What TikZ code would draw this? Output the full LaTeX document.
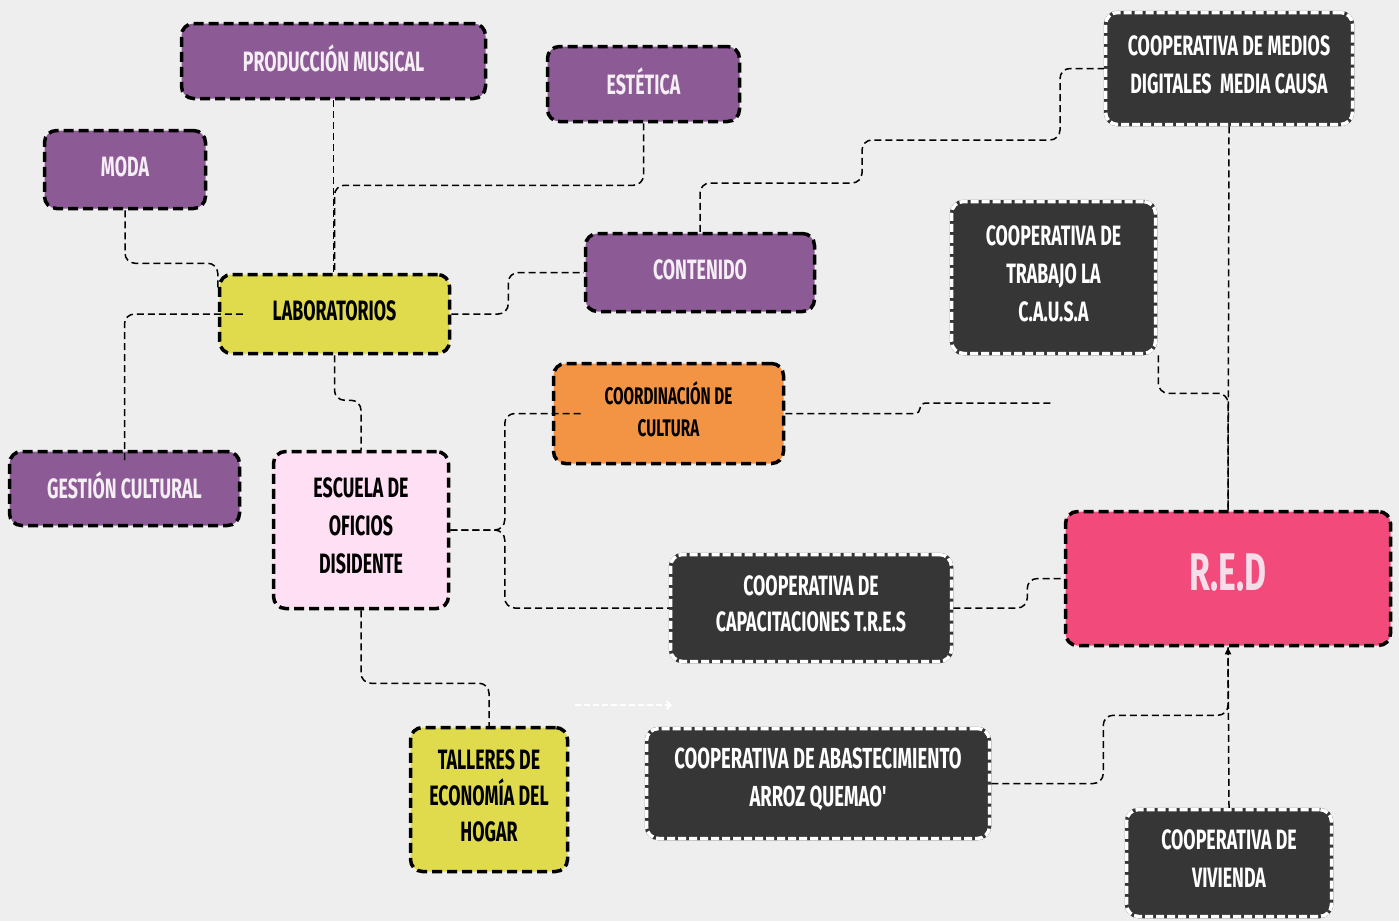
\documentclass[tikz,border=0pt]{standalone}
\usepackage{fontspec}
\newfontfamily\bebas[FakeStretch=0.636]{Fira Sans}
\usetikzlibrary{calc,arrows.meta}
\definecolor{bg}{HTML}{EEEEEE}
\definecolor{purp}{HTML}{8C5B95}
\definecolor{purptext}{HTML}{F5EEF5}
\definecolor{yel}{HTML}{E0DB4C}
\definecolor{pinkl}{HTML}{FFDFF3}
\definecolor{oran}{HTML}{F39444}
\definecolor{dk}{HTML}{363636}
\definecolor{redp}{HTML}{F24A7B}
\tikzset{
  box/.style={rounded corners=12pt, line width=3.5pt, dash pattern=on 10pt off 5pt,
    draw=black, inner sep=0pt},
  purplebox/.style={box, fill=purp},
  yelbox/.style={box, fill=yel},
  pinkbox/.style={box, fill=pinkl},
  orbox/.style={box, fill=oran},
  darkbox/.style={box, fill=dk, draw=white, dash pattern=on 8pt off 3pt,
    preaction={draw=dk, solid}},
  redbox/.style={box, fill=redp},
  lbl/.style={align=center, inner sep=0pt, font=\bebas\bfseries\fontsize{28}{38}\selectfont},
  ltw/.style={lbl, text=purptext},
  ltk/.style={lbl, text=black},
  conn/.style={draw=black, line width=1.5pt, dash pattern=on 7pt off 4pt, rounded corners=10pt},
}
\begin{document}
\begin{tikzpicture}[x=1pt,y=-1pt]
\fill[bg] (0,0) rectangle (1399,921);
\useasboundingbox (0,0) rectangle (1399,921);
% boxes
\node[purplebox, minimum width=304pt, minimum height=75pt] (prod) at (333.5,61) {};
\node[purplebox, minimum width=192pt, minimum height=75pt] (est) at (643.5,84) {};
\node[purplebox, minimum width=161pt, minimum height=78pt] (moda) at (125,169.5) {};
\node[yelbox, minimum width=230pt, minimum height=79pt] (lab) at (334.5,314) {};
\node[purplebox, minimum width=229pt, minimum height=78pt] (cont) at (700,272.5) {};
\node[purplebox, minimum width=230pt, minimum height=74pt] (gest) at (124.5,488.5) {};
\node[pinkbox, minimum width=175pt, minimum height=157pt] (esc) at (361,530) {};
\node[orbox, minimum width=230pt, minimum height=100pt] (coord) at (668.5,413.5) {};
\node[yelbox, minimum width=157pt, minimum height=144pt] (tall) at (489,799.5) {};
\node[darkbox, minimum width=247pt, minimum height=112pt] (med) at (1229,68.5) {};
\node[darkbox, minimum width=204pt, minimum height=152pt] (trab) at (1053.5,277.5) {};
\node[darkbox, minimum width=281pt, minimum height=107pt] (cap) at (811,608) {};
\node[redbox, minimum width=325pt, minimum height=134pt] (red) at (1228,578.5) {};
\node[darkbox, minimum width=343pt, minimum height=110pt] (abas) at (818,783.5) {};
\node[darkbox, minimum width=205pt, minimum height=107pt] (viv) at (1229,863) {};
% texts
\node[ltw] (prod-t) at ([yshift=3pt]prod.center) {PRODUCCIÓN MUSICAL};
\node[ltw] (est-t) at ([yshift=3pt]est.center) {ESTÉTICA};
\node[ltw] (moda-t) at ([yshift=3pt]moda.center) {MODA};
\node[ltk] (lab-t) at ([yshift=3pt]lab.center) {LABORATORIOS};
\node[ltw] (cont-t) at ([yshift=3pt]cont.center) {CONTENIDO};
\node[ltw] (gest-t) at ([yshift=3pt]gest.center) {GESTIÓN CULTURAL};
\node[ltk] (esc-t) at ([yshift=4pt]esc.center) {ESCUELA DE\\OFICIOS\\DISIDENTE};
\node[ltk, font=\bebas\bfseries\fontsize{24}{32}\selectfont] (coord-t) at ([yshift=4pt]coord.center) {COORDINACIÓN DE\\CULTURA};
\node[ltk, font=\bebas\bfseries\fontsize{28}{36}\selectfont] (tall-t) at ([yshift=4pt]tall.center) {TALLERES DE\\ECONOMÍA DEL\\HOGAR};
\node[ltw, text=white] (med-t) at ([yshift=4pt]med.center) {COOPERATIVA DE MEDIOS\\DIGITALES\ \ MEDIA CAUSA};
\node[ltw, text=white] (trab-t) at ([yshift=4pt]trab.center) {COOPERATIVA DE\\TRABAJO LA\\C.A.U.S.A};
\node[ltw, text=white, font=\bebas\bfseries\fontsize{28}{36}\selectfont] (cap-t) at ([yshift=4pt]cap.center) {COOPERATIVA DE\\CAPACITACIONES T.R.E.S};
\node[ltw, text=purptext!90!redp, font=\bebas\bfseries\fontsize{53}{60}\selectfont] (red-t) at ([yshift=6pt]red.center) {R.E.D};
\node[ltw, text=white, font=\bebas\bfseries\fontsize{29}{38}\selectfont] (abas-t) at ([yshift=4pt]abas.center) {COOPERATIVA DE ABASTECIMIENTO\\ARROZ QUEMAO'};
\node[ltw, text=white] (viv-t) at ([yshift=4pt]viv.center) {COOPERATIVA DE\\VIVIENDA};
% free ends
\coordinate (jend) at (1053,403);
\coordinate (wa) at (575,705);
\coordinate (wb) at (672,705);
% connectors
\draw[conn] (prod.south) -- (prod.south |- lab.north);
\draw[conn] (est.south) -- ++(0,62) -| (lab.north);
\draw[conn] (moda.south) -- ++(0,53) -| ($(lab.west)+(0,-24)$);
\draw[conn] ($(lab.west)+(25,0)$) -| ($(gest.north)+(0,12)$);
\draw[conn] (lab.east) -- ++(57,0) |- (cont.west);
\draw[conn] (cont.north) |- (862,183) |- (1060,140) |- (med.west);
\draw[conn] (esc.east) -| ($(coord.west)+(-47,0)$) -- ($(coord.west)+(30,0)$);
\draw[conn] (esc.east) -| ($(cap.west)+(-164,0)$) -- (cap.west);
\draw[conn] (esc.south) -- ++(0,73) -| (tall.north);
\draw[conn] (lab.south) -- ++(0,45) -| (esc.north);
\draw[conn, rounded corners=5pt] (coord.east) -| (920,403) -- (jend);
\draw[conn] (med.south) -- (red.north);
\draw[conn] ($(trab.south east)+(1,0)$) -- ++(0,38) -| (red.north);
\draw[conn] (cap.east) -- ++(74,0) |- (red.west);
\draw[conn, -{Triangle[length=7pt,width=6pt]}] (abas.east) -- ++(112,0) |- ($(red.south)+(0,68)$) -- (red.south);
\draw[conn] (viv.north) -- (red.south);
\draw[draw=white, line width=2pt, dash pattern=on 6pt off 3pt, -{Straight Barb[length=4pt,width=8pt]}] (wa) -- (wb);
\end{tikzpicture}
\end{document}
